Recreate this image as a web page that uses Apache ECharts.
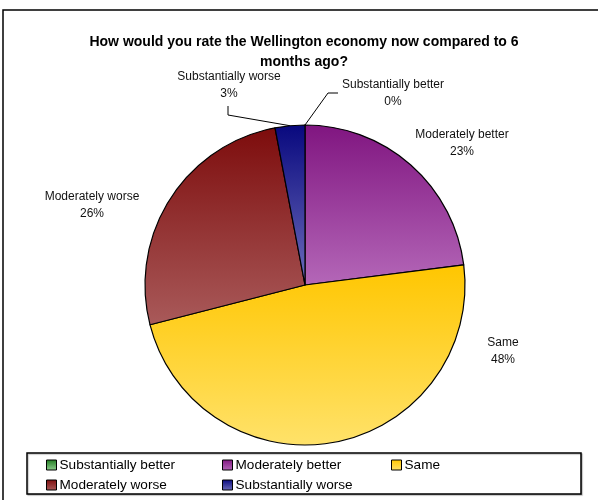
<!DOCTYPE html>
<html>
<head>
<meta charset="utf-8">
<script src="https://cdn.jsdelivr.net/npm/echarts@6/dist/echarts.min.js"></script>
<style>
  html, body { margin: 0; padding: 0; background: #ffffff; }
  #chart { width: 598px; height: 500px; }
</style>
</head>
<body>
<div id="chart"></div>
<script>
const categories = ['Substantially better', 'Moderately better', 'Same', 'Moderately worse', 'Substantially worse'];
const shares = [0, 23, 48, 26, 3];
const titleText = 'How would you rate the Wellington economy now compared to 6\nmonths ago?';

// top and bottom colours of each slice's vertical gradient
const gradientTops = ['#1f7a1f', '#801580', '#ffc600', '#7d0c0c', '#08087e'];
const gradientBottoms = ['#8fcf8f', '#b467b8', '#ffe26a', '#a95a5a', '#6d6dbb'];

// label centres, and the bend/end points of the two leader lines
const labelSpots = [[393, 93], [462, 143], [503, 351], [92, 205], [229, 85]];
const leaderBends = [[[328, 93], [338, 93]], null, null, null, [[228, 115], [228, 106]]];

// legend grid: [left, top] of each entry
const legendSpots = [[46, 458], [222, 458], [391, 458], [46, 478], [222, 478]];

const FONT = "'Liberation Sans', Arial, sans-serif";

const chart = echarts.init(document.getElementById('chart'), null, { renderer: 'canvas' });

const slices = categories.map((name, i) => ({
  name: name,
  value: shares[i],
  itemStyle: {
    color: new echarts.graphic.LinearGradient(0, 0, 0, 1, [
      { offset: 0, color: gradientTops[i] },
      { offset: 1, color: gradientBottoms[i] }
    ])
  },
  labelLine: { show: leaderBends[i] !== null }
}));

const legends = categories.map((name, i) => ({
  data: [name],
  left: legendSpots[i][0],
  top: legendSpots[i][1],
  orient: 'horizontal',
  padding: 0,
  itemWidth: 10,
  itemHeight: 10,
  itemGap: 0,
  icon: 'rect',
  selectedMode: false,
  itemStyle: { borderColor: '#000', borderWidth: 1 },
  textStyle: { fontFamily: FONT, fontSize: 13.6, color: '#000', padding: [0, 0, 0, -2] }
}));

chart.setOption({
  animation: false,
  backgroundColor: '#ffffff',
  graphic: [
    { type: 'rect', shape: { x: 3, y: 10, width: 700, height: 600 },
      style: { fill: 'none', stroke: '#000', lineWidth: 1.5 }, silent: true },
    { type: 'rect', shape: { x: 27, y: 453, width: 554, height: 41 },
      style: { fill: '#fff', stroke: '#000', lineWidth: 1.5, shadowColor: 'rgba(0,0,0,0.25)', shadowOffsetX: 1, shadowOffsetY: 1, shadowBlur: 1 }, silent: true },
    { type: 'text', x: 304, y: 32, silent: true,
      style: { text: titleText, fill: '#000', font: "bold 14px 'Liberation Sans', Arial, sans-serif",
               lineHeight: 20, align: 'center', verticalAlign: 'top' } }
  ],
  legend: legends,
  series: [{
    type: 'pie',
    center: [305, 285],
    radius: 160,
    startAngle: 90,
    clockwise: true,
    avoidLabelOverlap: false,
    stillShowZeroSum: true,
    itemStyle: { borderColor: '#000', borderWidth: 1.2 },
    emphasis: { disabled: true },
    label: {
      show: true,
      position: 'outside',
      fontFamily: FONT,
      fontSize: 12,
      lineHeight: 17,
      color: '#111',
      formatter: p => p.name + '\n' + p.value + '%'
    },
    labelLine: { show: true, lineStyle: { color: '#000', width: 1 } },
    labelLayout: params => {
      const i = params.dataIndex;
      const out = { x: labelSpots[i][0], y: labelSpots[i][1], align: 'center', verticalAlign: 'middle' };
      if (leaderBends[i] && params.labelLinePoints) {
        out.labelLinePoints = [params.labelLinePoints[0], leaderBends[i][0], leaderBends[i][1]];
      }
      return out;
    },
    data: slices
  }]
});
</script>
</body>
</html>
